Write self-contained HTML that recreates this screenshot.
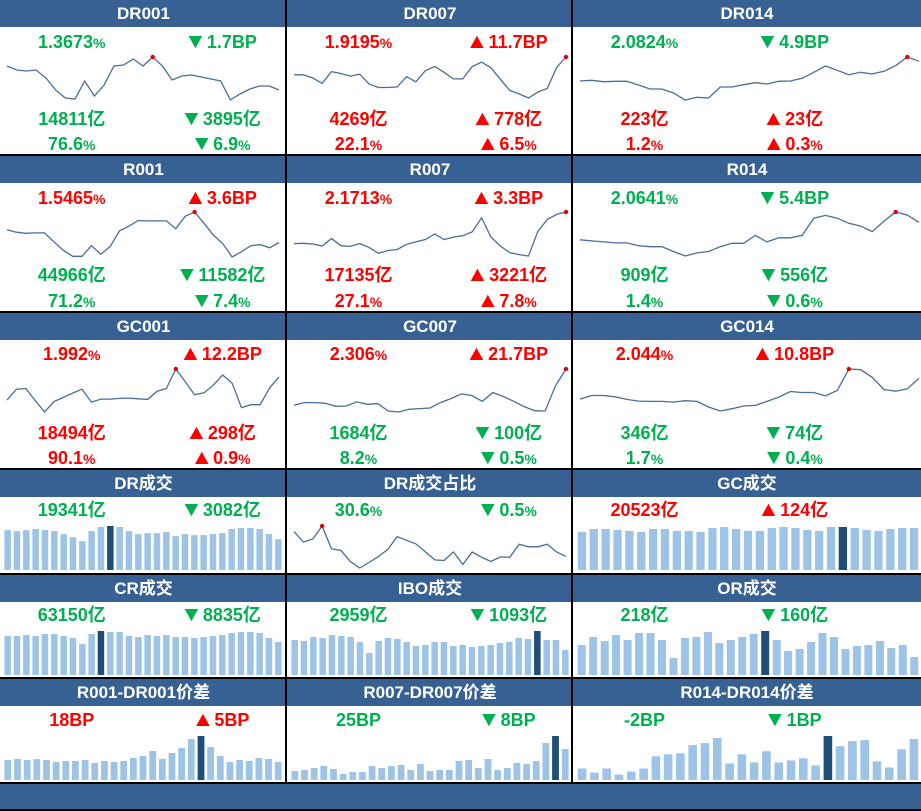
<!DOCTYPE html>
<html><head><meta charset="utf-8">
<style>
html,body{margin:0;padding:0;background:#fff;}
#root{position:relative;width:921px;height:811px;overflow:hidden;font-family:"Liberation Sans","Noto Sans CJK SC",sans-serif;}
.hdr{position:absolute;background:#386193;color:#fff;font-weight:bold;font-size:17px;text-align:center;line-height:27px;}
.val{position:absolute;font-weight:bold;font-size:18px;line-height:20px;text-align:center;white-space:nowrap;transform:translateX(-50%);}
.val small{font-size:14px;}
.val i{font-style:normal;font-size:21px;line-height:18px;display:inline-block;transform:scaleX(1.1);margin-right:1px;}
.g{color:#00b050;}.r{color:#ff0000;}
.hl{position:absolute;background:#000;height:2px;left:0;width:921px;}
.vl{position:absolute;background:#000;width:2px;}
svg{position:absolute;left:0;top:0;}
</style></head><body>
<div id="root">
<svg id="chart" width="921" height="811"></svg>
</div>
<script>
// ---- line series data ----
const dr001 = [44,40,39,40,32,20,12,11,29,14,25,44,45,51,44,53,44,30,34,35,33,31,29,10,16,21,24,24,20];
const dr007 = [92,92,82,65,102,96,88,94,63,52,52,54,86,70,105,118,100,79,79,118,132,114,78,43,32,19,38,49,115,148];
const dr014 = [76,78,74,75,75,64,52,52,40,19,27,25,58,58,65,71,67,75,76,84,102,121,108,95,102,97,105,122,148,135];
const r001 = [112,105,102,103,103,78,54,37,37,67,43,65,109,122,138,137,137,137,115,150,162,130,97,73,35,50,67,70,61,76];
const r007 = [69,70,68,62,84,63,61,69,58,41,49,52,67,74,81,97,81,88,92,103,144,88,62,43,37,33,105,139,154,161];
const r014 = [82,79,76,73,73,65,62,62,48,35,44,48,62,72,72,95,76,88,88,95,145,153,145,130,122,106,136,163,154,133];
const gc001 = [79,112,114,78,43,74,87,100,112,73,82,82,84,85,83,81,106,114,173,135,95,101,124,155,130,56,65,65,116,149];
const gc007 = [62,70,70,68,59,60,72,65,67,45,42,50,52,54,70,82,96,91,74,100,88,74,58,46,45,120,170];
const gc014 = [79,90,90,86,78,73,72,72,70,74,72,55,43,50,58,60,72,85,102,99,99,89,105,170,168,145,108,103,110,142];
const drRatio = [150,118,127,167,97,92,58,38,55,73,95,134,123,112,88,63,61,87,49,87,71,58,72,71,111,103,103,111,87,73];
// ---- bar series data ----
const drVol = [118,115,118,121,118,115,106,97,85,115,127,130,127,115,106,109,109,112,100,106,103,103,106,109,121,124,124,121,106,91];
const gcVol = [117,126,126,123,120,117,126,126,120,120,117,129,132,126,120,120,129,132,129,123,120,132,132,129,123,120,126,129,129];
const crVol = [117,117,120,117,123,123,117,111,93,123,132,129,129,117,114,120,117,120,114,114,111,114,117,120,126,129,129,126,111,99];
const iboVol = [105,102,114,111,120,117,114,99,66,102,111,108,99,87,90,99,99,87,90,84,87,90,96,99,111,108,132,105,105,75];
const orVol = [90,114,102,120,105,126,126,105,51,111,114,129,96,105,114,123,132,105,72,78,99,126,114,78,87,90,102,81,90,54];
const spread1 = [60,63,60,63,60,54,57,57,60,51,57,54,57,66,72,87,63,81,96,123,132,99,72,54,60,57,66,63,54];
const spread7 = [27,30,36,42,33,18,24,24,42,36,42,45,30,48,27,30,30,57,60,36,63,30,36,51,48,57,111,132,93];
const spread14 = [34,22,34,16,25,34,70,76,79,103,109,124,49,76,52,85,52,58,64,43,130,100,115,118,55,37,91,121];
const hiDr=11, hiGc=22, hiCr=10, hiIbo=26, hiOr=16, hiS1=20, hiS7=27, hiS14=20;

const root=document.getElementById('root');
const svg=document.getElementById('chart');
const NS='http://www.w3.org/2000/svg';
const colX=[0,287,573,921];

function addDiv(cls,x,y,w,h,html){
  const d=document.createElement('div');d.className=cls;
  d.style.left=x+'px';d.style.top=y+'px';
  if(w!=null)d.style.width=w+'px';if(h!=null)d.style.height=h+'px';
  if(html!=null)d.innerHTML=html;root.appendChild(d);return d;
}
function header(col,y,text){
  const d=addDiv('hdr',colX[col],y,colX[col+1]-colX[col],27,text);
  
  
}
function val(col,frac,y,cls,html){
  const x=colX[col]+(col==2?286:colX[col+1]-colX[col])*frac;
  const d=addDiv('val '+cls,x,y,null,null,html);
  
  
}
function line(col,top,bottom,data){
  const x0=colX[col]+7, x1=colX[col]+(col==2?346:279);
  const mn=Math.min(...data), mx=Math.max(...data);
  const xs=i=>x0+(x1-x0)*i/(data.length-1);
  const ys=v=>bottom-(v-mn)/(mx-mn)*(bottom-top);
  const pts=data.map((v,i)=>xs(i).toFixed(1)+','+ys(v).toFixed(1)).join(' ');
  const p=document.createElementNS(NS,'polyline');
  p.setAttribute('points',pts);p.setAttribute('fill','none');
  p.setAttribute('stroke','#4a6d9c');p.setAttribute('stroke-width','1.3');
  
  
  svg.appendChild(p);
  const mi=data.indexOf(mx);
  const c=document.createElementNS(NS,'circle');
  c.setAttribute('cx',xs(mi));c.setAttribute('cy',ys(mx));c.setAttribute('r','2.2');c.setAttribute('fill','#e00000');
  
  
  svg.appendChild(c);
}
function bars(col,top,bottom,data,hi){
  const x0=colX[col]+3, x1=colX[col]+(col==2?347:283);
  const mx=Math.max(...data);
  const pitch=(x1-x0)/data.length, bw=pitch*0.7;
  data.forEach((v,i)=>{
    const h=v/mx*(bottom-top);
    const r=document.createElementNS(NS,'rect');
    r.setAttribute('x',(x0+i*pitch+(pitch-bw)/2).toFixed(1));
    r.setAttribute('y',(bottom-h).toFixed(1));
    r.setAttribute('width',bw.toFixed(1));r.setAttribute('height',h.toFixed(1));
    r.setAttribute('fill',i===hi?'#1f4e79':'#9dc3e6');
    
    
    svg.appendChild(r);
  });
}
const U='<i>▲</i>',D='<i>▼</i>';
// Row 1
header(0,0,'DR001');header(1,0,'DR007');header(2,0,'DR014');
val(0,.25,32,'g','1.3673<small>%</small>');val(0,.77,32,'g',D+'1.7BP');
val(1,.25,32,'r','1.9195<small>%</small>');val(1,.77,32,'r',U+'11.7BP');
val(2,.25,32,'g','2.0824<small>%</small>');val(2,.77,32,'g',D+'4.9BP');
line(0,57,100,dr001);line(1,57,98,dr007);line(2,57,100,dr014);
val(0,.25,109,'g','14811亿');val(0,.77,109,'g',D+'3895亿');
val(0,.25,134,'g','76.6<small>%</small>');val(0,.77,134,'g',D+'6.9<small>%</small>');
val(1,.25,109,'r','4269亿');val(1,.77,109,'r',U+'778亿');
val(1,.25,134,'r','22.1<small>%</small>');val(1,.77,134,'r',U+'6.5<small>%</small>');
val(2,.25,109,'r','223亿');val(2,.77,109,'r',U+'23亿');
val(2,.25,134,'r','1.2<small>%</small>');val(2,.77,134,'r',U+'0.3<small>%</small>');
// Row 2
header(0,156,'R001');header(1,156,'R007');header(2,156,'R014');
val(0,.25,188,'r','1.5465<small>%</small>');val(0,.77,188,'r',U+'3.6BP');
val(1,.25,188,'r','2.1713<small>%</small>');val(1,.77,188,'r',U+'3.3BP');
val(2,.25,188,'g','2.0641<small>%</small>');val(2,.77,188,'g',D+'5.4BP');
line(0,212,257,r001);line(1,212,256,r007);line(2,212,256,r014);
val(0,.25,265,'g','44966亿');val(0,.77,265,'g',D+'11582亿');
val(0,.25,291,'g','71.2<small>%</small>');val(0,.77,291,'g',D+'7.4<small>%</small>');
val(1,.25,265,'r','17135亿');val(1,.77,265,'r',U+'3221亿');
val(1,.25,291,'r','27.1<small>%</small>');val(1,.77,291,'r',U+'7.8<small>%</small>');
val(2,.25,265,'g','909亿');val(2,.77,265,'g',D+'556亿');
val(2,.25,291,'g','1.4<small>%</small>');val(2,.77,291,'g',D+'0.6<small>%</small>');
// Row 3
header(0,313,'GC001');header(1,313,'GC007');header(2,313,'GC014');
val(0,.25,344,'r','1.992<small>%</small>');val(0,.77,344,'r',U+'12.2BP');
val(1,.25,344,'r','2.306<small>%</small>');val(1,.77,344,'r',U+'21.7BP');
val(2,.25,344,'r','2.044<small>%</small>');val(2,.77,344,'r',U+'10.8BP');
line(0,369,412,gc001);line(1,369,412,gc007);line(2,369,411,gc014);
val(0,.25,423,'r','18494亿');val(0,.77,423,'r',U+'298亿');
val(0,.25,448,'r','90.1<small>%</small>');val(0,.77,448,'r',U+'0.9<small>%</small>');
val(1,.25,423,'g','1684亿');val(1,.77,423,'g',D+'100亿');
val(1,.25,448,'g','8.2<small>%</small>');val(1,.77,448,'g',D+'0.5<small>%</small>');
val(2,.25,423,'g','346亿');val(2,.77,423,'g',D+'74亿');
val(2,.25,448,'g','1.7<small>%</small>');val(2,.77,448,'g',D+'0.4<small>%</small>');
// Row 4
header(0,470,'DR成交');header(1,470,'DR成交占比');header(2,470,'GC成交');
val(0,.25,500,'g','19341亿');val(0,.77,500,'g',D+'3082亿');
val(1,.25,500,'g','30.6<small>%</small>');val(1,.77,500,'g',D+'0.5<small>%</small>');
val(2,.25,500,'r','20523亿');val(2,.77,500,'r',U+'124亿');
bars(0,526,570,drVol,hiDr);line(1,526,568,drRatio);bars(2,527,570,gcVol,hiGc);
// Row 5
header(0,575,'CR成交');header(1,575,'IBO成交');header(2,575,'OR成交');
val(0,.25,605,'g','63150亿');val(0,.77,605,'g',D+'8835亿');
val(1,.25,605,'g','2959亿');val(1,.77,605,'g',D+'1093亿');
val(2,.25,605,'g','218亿');val(2,.77,605,'g',D+'160亿');
bars(0,631,675,crVol,hiCr);bars(1,631,675,iboVol,hiIbo);bars(2,631,675,orVol,hiOr);
// Row 6
header(0,679,'R001-DR001价差');header(1,679,'R007-DR007价差');header(2,679,'R014-DR014价差');
val(0,.25,710,'r','18BP');val(0,.77,710,'r',U+'5BP');
val(1,.25,710,'g','25BP');val(1,.77,710,'g',D+'8BP');
val(2,.25,710,'g','-2BP');val(2,.77,710,'g',D+'1BP');
bars(0,736,780,spread1,hiS1);bars(1,736,780,spread7,hiS7);bars(2,736,780,spread14,hiS14);
// footer + grid lines
const f=addDiv('hdr',0,784,921,26,'');


[154,311,468,573,677,782,809].forEach(y=>{const l=addDiv('hl',0,y,null,null,null);

});
[285,571].forEach(x=>{const l=addDiv('vl',x,0,null,783,null);

});
</script>
</body></html>
